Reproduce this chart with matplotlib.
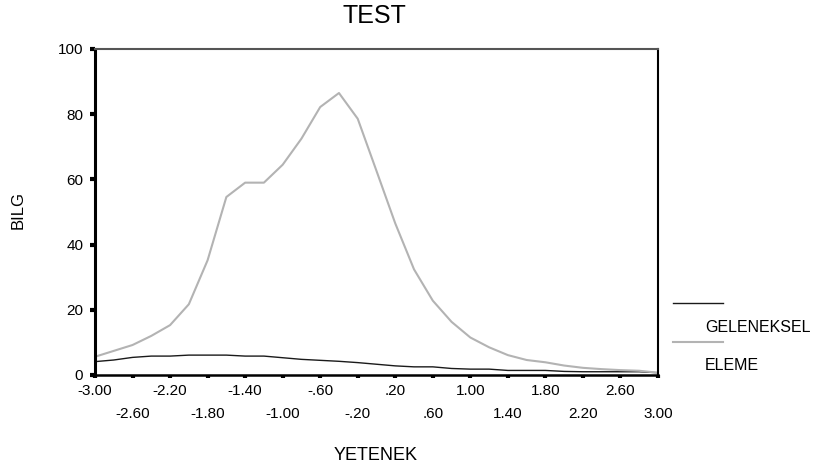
import matplotlib
matplotlib.use('Agg')
import matplotlib.pyplot as plt
from matplotlib.lines import Line2D
from matplotlib.ticker import FixedLocator

plt.rcParams['font.family'] = ['Liberation Sans', 'DejaVu Sans']

# YETENEK values, every 0.2 from -3 to 3
yetenek = [-3.0, -2.8, -2.6, -2.4, -2.2, -2.0, -1.8, -1.6, -1.4, -1.2, -1.0,
           -0.8, -0.6, -0.4, -0.2, 0.0, 0.2, 0.4, 0.6, 0.8, 1.0,
           1.2, 1.4, 1.6, 1.8, 2.0, 2.2, 2.4, 2.6, 2.8, 3.0]

geleneksel = [4.1, 4.6, 5.4, 5.8, 5.8, 6.1, 6.1, 6.1, 5.8, 5.8, 5.3,
              4.8, 4.5, 4.2, 3.8, 3.3, 2.8, 2.5, 2.5, 2.0, 1.8,
              1.8, 1.4, 1.4, 1.4, 1.1, 1.0, 1.0, 1.0, 1.0, 0.7]

eleme = [5.6, 7.4, 9.2, 12.0, 15.3, 21.7, 35.2, 54.6, 59.0, 59.0, 64.5,
         72.5, 82.2, 86.5, 78.6, 62.6, 46.5, 32.4, 22.8, 16.3, 11.5,
         8.5, 6.1, 4.6, 3.9, 2.9, 2.2, 1.8, 1.5, 1.3, 0.7]

top_ticks = [-3.0, -2.2, -1.4, -0.6, 0.2, 1.0, 1.8, 2.6]
top_labels = ['-3.00', '-2.20', '-1.40', '-.60', '.20', '1.00', '1.80', '2.60']
bottom_ticks = [-2.6, -1.8, -1.0, -0.2, 0.6, 1.4, 2.2, 3.0]
bottom_labels = ['-2.60', '-1.80', '-1.00', '-.20', '.60', '1.40', '2.20', '3.00']
y_ticks = [0, 20, 40, 60, 80, 100]

fig = plt.figure(figsize=(8.35, 4.71), dpi=100)
ax = fig.add_axes([95 / 835, 1 - 375 / 471, 563 / 835, 326 / 471])

ax.plot(yetenek, geleneksel, color='#1a1a1a', lw=1.0)
ax.plot(yetenek, eleme, color='#b3b3b3', lw=1.5)

ax.set_xlim(-3, 3)
ax.set_ylim(0, 100)

ax.xaxis.set_major_locator(FixedLocator(top_ticks))
ax.set_xticklabels(top_labels)
ax.xaxis.set_minor_locator(FixedLocator(bottom_ticks))
ax.set_xticks(bottom_ticks, bottom_labels, minor=True)
ax.set_yticks(y_ticks)

ax.tick_params(axis='x', which='major', length=2.5, width=3, pad=4, labelsize=11)
ax.tick_params(axis='x', which='minor', length=2.5, width=3, pad=20.5, labelsize=11)
ax.tick_params(axis='y', length=3.5, width=3, pad=5, labelsize=11)

for side in ['left', 'bottom', 'right']:
    ax.spines[side].set_color('black')
ax.spines['left'].set_linewidth(2.2)
ax.spines['bottom'].set_linewidth(1.8)
ax.spines['right'].set_linewidth(1.5)
ax.spines['top'].set_color('#555555')
ax.spines['top'].set_linewidth(1.5)

fig.text(374 / 835, 1 - 16 / 471, 'TEST', ha='center', va='center', fontsize=18)
fig.text(376 / 835, 1 - 455 / 471, 'YETENEK', ha='center', va='center', fontsize=13)
fig.text(18 / 835, 1 - 210 / 471, 'BILG', ha='center', va='center',
         rotation=90, fontsize=12)

# legend: line above, label below
fig.add_artist(Line2D([673 / 835, 723 / 835], [1 - 302.5 / 471] * 2,
                      color='#1a1a1a', lw=1.0))
fig.add_artist(Line2D([673 / 835, 723 / 835], [1 - 341.5 / 471] * 2,
                      color='#b3b3b3', lw=1.5))
fig.text(705 / 835, 1 - 327 / 471, 'GELENEKSEL', ha='left', va='center', fontsize=11.5)
fig.text(705 / 835, 1 - 365 / 471, 'ELEME', ha='left', va='center', fontsize=11.5)

fig.savefig('out.png', dpi=100)
